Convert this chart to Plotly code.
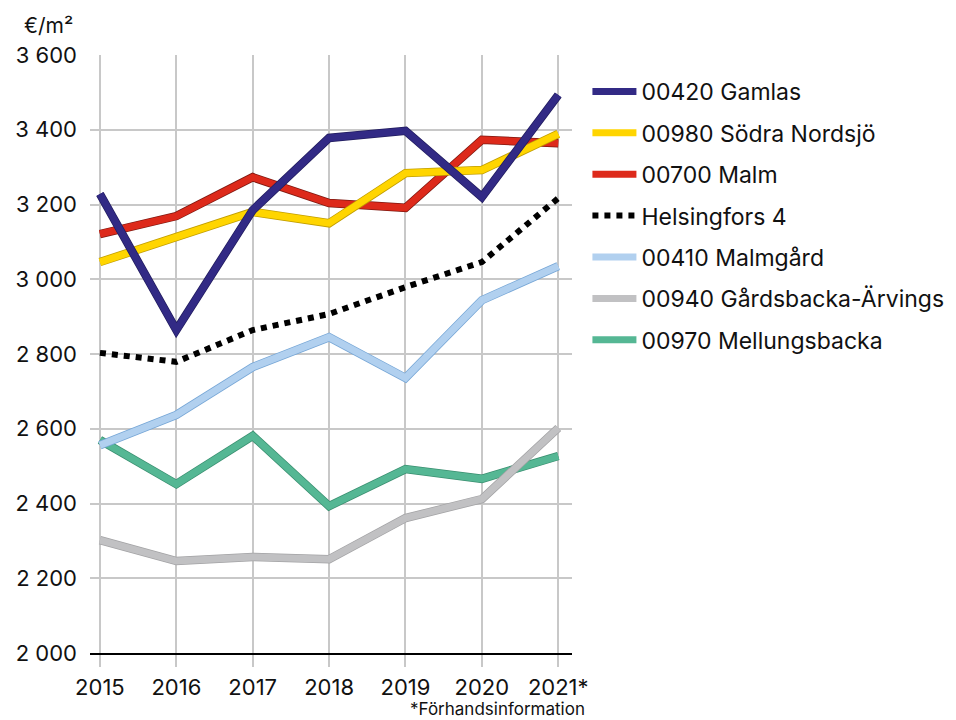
import plotly.graph_objects as go

years = ["2015", "2016", "2017", "2018", "2019", "2020", "2021*"]

gamlas = [3228, 2864, 3185, 3378, 3397, 3220, 3493]
sodra_nordsjo = [3046, 3113, 3180, 3150, 3284, 3292, 3389]
malm = [3121, 3169, 3273, 3204, 3191, 3373, 3364]
helsingfors_4 = [2803, 2779, 2864, 2907, 2979, 3046, 3217]
malmgard = [2556, 2637, 2765, 2845, 2736, 2944, 3035]
gardsbacka = [2302, 2246, 2257, 2251, 2361, 2412, 2602]
mellungsbacka = [2570, 2452, 2581, 2393, 2492, 2466, 2527]

y_ticks = [2000, 2200, 2400, 2600, 2800, 3000, 3200, 3400, 3600]
y_labels = ["2 000", "2 200", "2 400", "2 600", "2 800", "3 000", "3 200", "3 400", "3 600"]

FONT = "Inter, Roboto, sans-serif"
x_pos = list(range(len(years)))

# name, values, colour, outline colour, dash
series = [
    ("00420 Gamlas", gamlas, "#322a85", "#221d5e", "solid"),
    ("00980 Södra Nordsjö", sodra_nordsjo, "#ffd500", "#c29e00", "solid"),
    ("00700 Malm", malm, "#dd2a1b", "#7e1810", "solid"),
    ("Helsingfors 4", helsingfors_4, "#000000", None, "dot"),
    ("00410 Malmgård", malmgard, "#b1d0ef", "#76a6d6", "solid"),
    ("00940 Gårdsbacka-Ärvings", gardsbacka, "#c1c1c3", "#a3a3a5", "solid"),
    ("00970 Mellungsbacka", mellungsbacka, "#55b794", "#3a8f70", "solid"),
]

fig = go.Figure()

# drawn bottom-up so that earlier legend entries sit on top,
# legendrank keeps the legend in the original order
for rank, (name, vals, colour, edge, dash) in reversed(list(enumerate(series, 1))):
    if edge:
        fig.add_trace(
            go.Scatter(
                x=x_pos,
                y=vals,
                mode="lines",
                line=dict(color=edge, width=8.5),
                showlegend=False,
                hoverinfo="skip",
                legendgroup=name,
                legendrank=rank,
            )
        )
    fig.add_trace(
        go.Scatter(
            x=x_pos,
            y=vals,
            mode="lines",
            name=name,
            legendgroup=name,
            legendrank=rank,
            line=dict(color=colour, width=7 if edge else 6, dash=dash),
        )
    )

fig.update_layout(
    width=956,
    height=720,
    margin=dict(l=90, r=384, t=55, b=67, autoexpand=False),
    paper_bgcolor="white",
    plot_bgcolor="white",
    font=dict(family=FONT, size=22, color="#111111"),
    legend=dict(
        x=1.032,
        y=0.975,
        xanchor="left",
        yanchor="top",
        traceorder="grouped",
        tracegroupgap=8.5,
        itemwidth=44,
        font=dict(family=FONT, size=23, color="#111111"),
    ),
    xaxis=dict(
        range=[-0.13, 6.18],
        tickvals=x_pos,
        ticktext=years,
        showgrid=True,
        gridcolor="#c8c8c8",
        gridwidth=1.5,
        ticks="outside",
        ticklen=12,
        tickcolor="#c8c8c8",
        tickwidth=1.5,
        showline=True,
        linecolor="#000000",
        linewidth=2,
        zeroline=False,
        ticklabelstandoff=2,
    ),
    yaxis=dict(
        range=[2000, 3600],
        tickvals=y_ticks,
        ticktext=y_labels,
        showgrid=True,
        gridcolor="#c8c8c8",
        gridwidth=1.5,
        zeroline=False,
        ticklabelstandoff=12,
    ),
    annotations=[
        dict(
            text="€/m²",
            xref="paper",
            yref="paper",
            x=-0.141,
            y=1.05,
            xanchor="left",
            yanchor="middle",
            showarrow=False,
            font=dict(family=FONT, size=21, color="#111111"),
        ),
        dict(
            text="*Förhandsinformation",
            xref="paper",
            yref="paper",
            x=1.031,
            y=-0.093,
            xanchor="right",
            yanchor="middle",
            showarrow=False,
            font=dict(family=FONT, size=17, color="#111111"),
        ),
    ],
)

fig.write_html(
    "out.html",
    config={"displayModeBar": False},
    post_script="document.body.style.margin='0';",
)
